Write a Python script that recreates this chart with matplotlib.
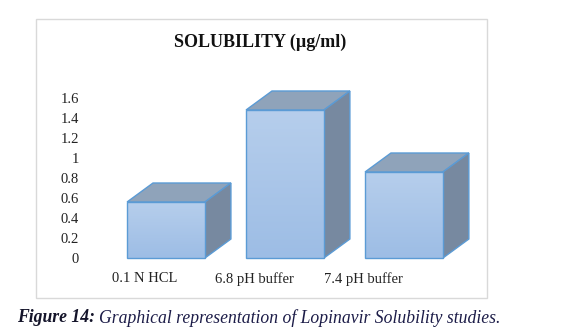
import matplotlib
matplotlib.use("Agg")
import matplotlib.pyplot as plt
from matplotlib.patches import Polygon, Rectangle
from matplotlib.colors import LinearSegmentedColormap
import numpy as np

categories = ["0.1 N HCL", "6.8 pH buffer", "7.4 pH buffer"]
solubility = [0.56, 1.48, 0.86]
y_ticks = [0, 0.2, 0.4, 0.6, 0.8, 1, 1.2, 1.4, 1.6]
y_tick_labels = ["0", "0.2", "0.4", "0.6", "0.8", "1", "1.2", "1.4", "1.6"]

W, H = 571, 333
plt.rcParams['font.family'] = ['Liberation Serif', 'DejaVu Serif']

fig = plt.figure(figsize=(W / 100, H / 100), dpi=100)
ax = fig.add_axes([90 / W, (H - 268) / H, 390 / W, 208 / H])

x = np.arange(len(categories))
bar_w = 0.655
depth_x = 0.218
depth_y = 0.19

edge = '#5b9bd5'
top_c = '#8fa3ba'
side_c = '#7789a0'
grad = LinearSegmentedColormap.from_list('front', ['#9dbde5', '#b6ceec'])

bars = ax.bar(x, solubility, width=bar_w, color='none', edgecolor=edge, linewidth=1, zorder=4)
for b, xi, v in zip(bars, x, solubility):
    l, r = xi - bar_w / 2, xi + bar_w / 2
    im = ax.imshow(np.linspace(0, 1, 64).reshape(-1, 1), cmap=grad, origin='lower',
                   extent=[l, r, 0, v], aspect='auto', zorder=3)
    im.set_clip_path(b)
    ax.add_patch(Polygon([(l, v), (r, v), (r + depth_x, v + depth_y), (l + depth_x, v + depth_y)],
                         closed=True, facecolor=top_c, edgecolor=edge, linewidth=1, zorder=2))
    ax.add_patch(Polygon([(r, 0), (r + depth_x, depth_y), (r + depth_x, v + depth_y), (r, v)],
                         closed=True, facecolor=side_c, edgecolor=edge, linewidth=1, zorder=2))

ax.set_xlim(-0.639, 2.639)
ax.set_ylim(-0.1, 1.98)
ax.set_yticks(y_ticks, y_tick_labels)
label_pos = [i * 109 / 119 - 21 / 119 for i in x]
ax.set_xticks(label_pos, categories)
ax.tick_params(axis='both', length=0, labelsize=10.5, colors='#222222')
ax.tick_params(axis='y', pad=8)
ax.tick_params(axis='x', pad=3)
for s in ax.spines.values():
    s.set_visible(False)
ax.patch.set_alpha(0)

# chart border
fig.patches.append(Rectangle((36 / W, 1 - 298 / H), 451 / W, 279 / H, transform=fig.transFigure,
                             fill=False, edgecolor='#d9d9d9', linewidth=1))

fig.text(260 / W, 1 - 42 / H, "SOLUBILITY (\u00b5g/ml)", ha='center', va='center',
         fontsize=13, fontweight='bold', color='#111111')

t1 = fig.text(17 / W, 1 - 318 / H, "Figure 14:", ha='left', va='center',
              fontsize=12.7, fontweight='bold', style='italic', color='#14142a')
fig.canvas.draw()
bb = t1.get_window_extent()
fig.text((bb.x1 + 4) / W, 1 - 318 / H, "Graphical representation of Lopinavir Solubility studies.",
         ha='left', va='center', fontsize=12.7, style='italic', color='#1c1c48')

fig.savefig("out.png", dpi=100)
